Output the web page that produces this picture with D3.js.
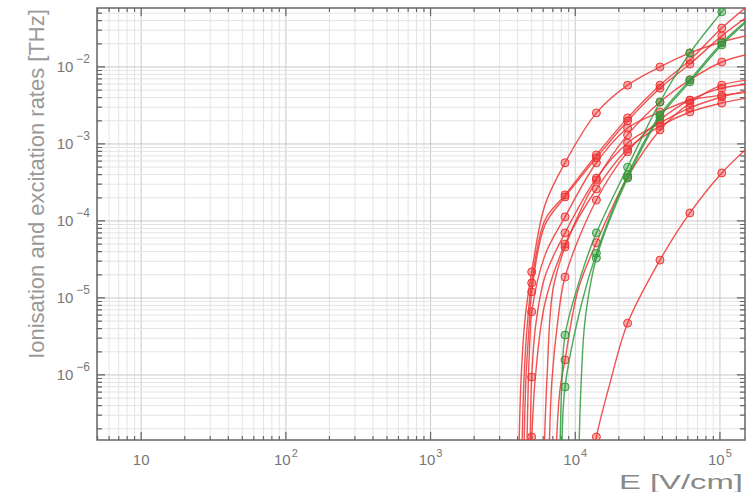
<!DOCTYPE html>
<html>
<head>
<meta charset="utf-8">
<script src="https://cdn.jsdelivr.net/npm/d3@7"></script>
<style>
   body { margin: 0; background: #fff; }
   svg { display: block; font-family: "Liberation Sans", Arial, sans-serif; }
</style>
</head>
<body>
<script>
"use strict"

// E columns where the data points carry a marker
const markE = [5.0e3, 8.5e3, 1.4e4, 2.3e4, 3.85e4, 6.2e4, 1.03e5]

const xTicks = [1e1, 1e2, 1e3, 1e4, 1e5]
const xTickExp = ['', '2', '3', '4', '5']
const yTicks = [1e-6, 1e-5, 1e-4, 1e-3, 1e-2]
const yTickExp = ['\u22126', '\u22125', '\u22124', '\u22123', '\u22122']

// [E in V/cm, rate in THz]
const redA = [[4.08e3, 1e-7], [4.22e3, 8.6e-7], [4.49e3, 5.2e-6], [5.0e3, 2.18e-5], [6.18e3, 1.61e-4], [8.5e3, 5.7e-4], [1.4e4, 2.53e-3], [2.3e4, 5.8e-3], [3.85e4, 1.0e-2], [6.2e4, 1.52e-2], [1.03e5, 2.11e-2], [1.6e5, 2.6e-2]]
const redB = [[4.28e3, 1e-7], [4.42e3, 8.6e-7], [4.63e3, 3.8e-6], [5.0e3, 1.57e-5], [6.18e3, 1.03e-4], [8.5e3, 2.18e-4], [1.4e4, 7.2e-4], [2.3e4, 2.18e-3], [3.85e4, 5.8e-3], [6.2e4, 1.23e-2], [1.03e5, 3.2e-2], [1.6e5, 6.5e-2]]
const redB2 = [[4.42e3, 1e-7], [4.56e3, 8.6e-7], [4.78e3, 3.8e-6], [5.0e3, 1.2e-5], [6.18e3, 8.9e-5], [8.5e3, 2.05e-4], [1.4e4, 6.6e-4], [2.3e4, 1.99e-3], [3.85e4, 5.3e-3], [6.2e4, 1.09e-2], [1.03e5, 2.53e-2], [1.6e5, 4.7e-2]]
const redC = [[4.63e3, 1e-7], [4.74e3, 8.6e-7], [4.86e3, 2.85e-6], [5.0e3, 6.6e-6], [6.18e3, 3.6e-5], [8.5e3, 1.13e-4], [1.4e4, 5.7e-4], [2.3e4, 1.61e-3], [3.85e4, 2.6e-3], [6.2e4, 3.7e-3], [1.03e5, 4.3e-3], [1.6e5, 4.7e-3]]
const redD = [[4.88e3, 1e-7], [5.0e3, 9.4e-7], [5.35e3, 4.7e-6], [6.18e3, 1.9e-5], [8.5e3, 7.0e-5], [1.4e4, 3.6e-4], [2.3e4, 1.03e-3], [3.85e4, 1.87e-3], [6.2e4, 2.94e-3], [1.03e5, 4.07e-3], [1.6e5, 5.0e-3]]
const redE = [[6.1e3, 1e-7], [6.37e3, 8.6e-7], [7.01e3, 1.27e-5], [8.5e3, 4.6e-5], [1.4e4, 3.4e-4], [2.3e4, 1.31e-3], [3.85e4, 3.5e-3], [6.2e4, 6.8e-3], [1.03e5, 1.16e-2], [1.6e5, 1.47e-2]]
const redF = [[6.6e3, 1e-7], [6.9e3, 8.6e-7], [7.59e3, 5.2e-6], [8.5e3, 1.87e-5], [1.4e4, 1.87e-4], [2.3e4, 7.9e-4], [3.85e4, 2.05e-3], [6.2e4, 3.7e-3], [1.03e5, 5.3e-3], [1.6e5, 6.0e-3]]
const redG = [[7.36e3, 1e-7], [7.84e3, 6.4e-7], [8.5e3, 1.57e-6], [1.045e4, 1.27e-5], [1.4e4, 5.2e-5], [2.3e4, 3.7e-4], [3.85e4, 1.52e-3], [6.2e4, 3.4e-3], [1.03e5, 5.8e-3], [1.6e5, 6.8e-3]]
const redH = [[4.9e3, 1e-7], [5.0e3, 1.57e-7], [5.3e3, 9.4e-7], [6.18e3, 8.6e-6], [8.5e3, 5.0e-5], [1.4e4, 2.6e-4], [2.3e4, 8.6e-4], [3.85e4, 1.7e-3], [6.2e4, 2.6e-3], [1.03e5, 3.4e-3], [1.6e5, 4.0e-3]]
const redFar = [[1.36e4, 1e-7], [1.4e4, 1.57e-7], [1.74e4, 7.9e-7], [2.3e4, 4.7e-6], [3.85e4, 3.1e-5], [6.2e4, 1.27e-4], [1.03e5, 4.2e-4], [1.6e5, 9.4e-4]]
const green1 = [[7.84e3, 1e-7], [8.09e3, 8.6e-7], [8.5e3, 3.3e-6], [1.1e4, 2.0e-5], [1.4e4, 7.0e-5], [2.3e4, 5.0e-4], [3.85e4, 3.5e-3], [6.2e4, 1.52e-2], [1.03e5, 5.2e-2], [1.6e5, 1.5e-1]]
const green2 = [[8.09e3, 1e-7], [8.5e3, 7.0e-7], [1.1e4, 8.1e-6], [1.4e4, 3.8e-5], [2.3e4, 3.95e-4], [3.85e4, 2.38e-3], [6.2e4, 6.8e-3], [1.03e5, 2.05e-2], [1.6e5, 4.3e-2]]
const green3 = [[1.06e4, 1e-7], [1.1e4, 8.6e-7], [1.17e4, 5.2e-6], [1.4e4, 3.3e-5], [2.3e4, 3.6e-4], [3.85e4, 2.24e-3], [6.2e4, 6.4e-3], [1.03e5, 1.93e-2], [1.6e5, 4.2e-2]]

const red = '#ee3434'
const green = '#2f9a3c'
const series = [
   {pts: redA, color: red}, {pts: redB, color: red}, {pts: redB2, color: red},
   {pts: redC, color: red}, {pts: redD, color: red}, {pts: redE, color: red},
   {pts: redF, color: red}, {pts: redG, color: red}, {pts: redH, color: red},
   {pts: green1, color: green}, {pts: green2, color: green}, {pts: green3, color: green},
   {pts: redFar, color: red}
]

const w = 746
const h = 492
const pLeft = 97, pRight = 745, pTop = 8, pBottom = 440

const x_scale = d3.scaleLog([4.95, 1.49e5], [pLeft, pRight])
const y_scale = d3.scaleLog([1.43e-7, 5.83e-2], [pBottom, pTop])

let svg = d3.select('body')
   .append('svg')
      .attr('width', w)
      .attr('height', h)

svg.append('clipPath')
   .attr('id', 'plot')
   .append('rect')
      .attr('x', pLeft)
      .attr('y', pTop)
      .attr('width', pRight - pLeft)
      .attr('height', pBottom - pTop)

// every 1..9 multiple inside the domain
function logSteps(scale) {
   const [a, b] = scale.domain()
   let out = []
   for (let e = Math.floor(Math.log10(a)); e <= Math.ceil(Math.log10(b)); e++) {
      for (let k = 1; k < 10; k++) {
         const v = k * Math.pow(10, e)
         if (v >= a && v <= b) out.push({v: v, major: k === 1})
      }
   }
   return out
}
const xSteps = logSteps(x_scale)
const ySteps = logSteps(y_scale)

let grid = svg.append('g')
grid.selectAll('.gx')
   .data(xSteps)
   .enter()
   .append('line')
      .attr('x1', d => x_scale(d.v))
      .attr('x2', d => x_scale(d.v))
      .attr('y1', pTop)
      .attr('y2', pBottom)
      .attr('stroke', d => d.major ? '#c8c8c8' : '#e4e4e4')
      .attr('stroke-width', 1)
grid.selectAll('.gy')
   .data(ySteps)
   .enter()
   .append('line')
      .attr('x1', pLeft)
      .attr('x2', pRight)
      .attr('y1', d => y_scale(d.v))
      .attr('y2', d => y_scale(d.v))
      .attr('stroke', d => d.major ? '#c8c8c8' : '#e4e4e4')
      .attr('stroke-width', 1)

// frame with IDL style inward ticks on all four sides
let frame = svg.append('g')
   .attr('stroke', '#666')
frame.append('rect')
   .attr('x', pLeft)
   .attr('y', pTop)
   .attr('width', pRight - pLeft)
   .attr('height', pBottom - pTop)
   .attr('fill', 'none')
   .attr('stroke-width', 1.5)
frame.selectAll('.tx')
   .data(xSteps)
   .enter()
   .append('path')
      .attr('stroke-width', 1.2)
      .attr('d', d => {
         const px = x_scale(d.v), len = d.major ? 8 : 4
         return `M${px},${pBottom}v${-len}M${px},${pTop}v${len}`
      })
frame.selectAll('.ty')
   .data(ySteps)
   .enter()
   .append('path')
      .attr('stroke-width', 1.2)
      .attr('d', d => {
         const py = y_scale(d.v), len = d.major ? 8 : 5
         return `M${pLeft},${py}h${len}M${pRight},${py}h${-len}`
      })

const line = d3.line()
   .x(d => x_scale(d[0]))
   .y(d => y_scale(d[1]))
   .curve(d3.curveCatmullRom.alpha(0.5))

let curves = svg.append('g')
   .attr('clip-path', 'url(#plot)')

series.forEach(s => {
   let g = curves.append('g')
   g.append('path')
      .datum(s.pts)
      .attr('d', line)
      .attr('fill', 'none')
      .attr('stroke', s.color)
      .attr('stroke-width', 1.4)
      .attr('stroke-opacity', 0.85)
   g.selectAll('circle')
      .data(s.pts.filter(d => markE.includes(d[0])))
      .enter()
      .append('circle')
         .attr('cx', d => x_scale(d[0]))
         .attr('cy', d => y_scale(d[1]))
         .attr('r', 4)
         .attr('fill', s.color)
         .attr('fill-opacity', 0.4)
         .attr('stroke', s.color)
         .attr('stroke-width', 1)
})

// tick labels, 10 with a raised exponent
let xl = svg.append('g')
   .attr('fill', '#777')
xTicks.forEach((t, i) => {
   let txt = xl.append('text')
      .attr('x', x_scale(t))
      .attr('y', 465)
      .attr('text-anchor', 'middle')
      .attr('font-size', 15)
   txt.append('tspan').text('10')
   if (xTickExp[i]) {
      txt.append('tspan')
         .attr('font-size', 11)
         .attr('dx', 1)
         .attr('dy', -8)
         .text(xTickExp[i])
   }
})

let yl = svg.append('g')
   .attr('fill', '#777')
yTicks.forEach((t, i) => {
   let txt = yl.append('text')
      .attr('x', 90)
      .attr('y', y_scale(t) + 5)
      .attr('text-anchor', 'end')
      .attr('font-size', 15)
   txt.append('tspan').text('10')
   txt.append('tspan')
      .attr('font-size', 12)
      .attr('dx', 3)
      .attr('dy', -9)
      .text(yTickExp[i])
})

svg.append('text')
   .attr('transform', 'translate(44, 184) rotate(-90)')
   .attr('text-anchor', 'middle')
   .attr('font-size', 22)
   .attr('fill', '#999')
   .text('Ionisation and excitation rates [THz]')

svg.append('text')
   .attr('x', 619)
   .attr('y', 489)
   .attr('font-size', 20)
   .attr('fill', '#888')
   .attr('textLength', 124)
   .attr('lengthAdjust', 'spacingAndGlyphs')
   .text('E [V/cm]')
</script>
</body>
</html>
